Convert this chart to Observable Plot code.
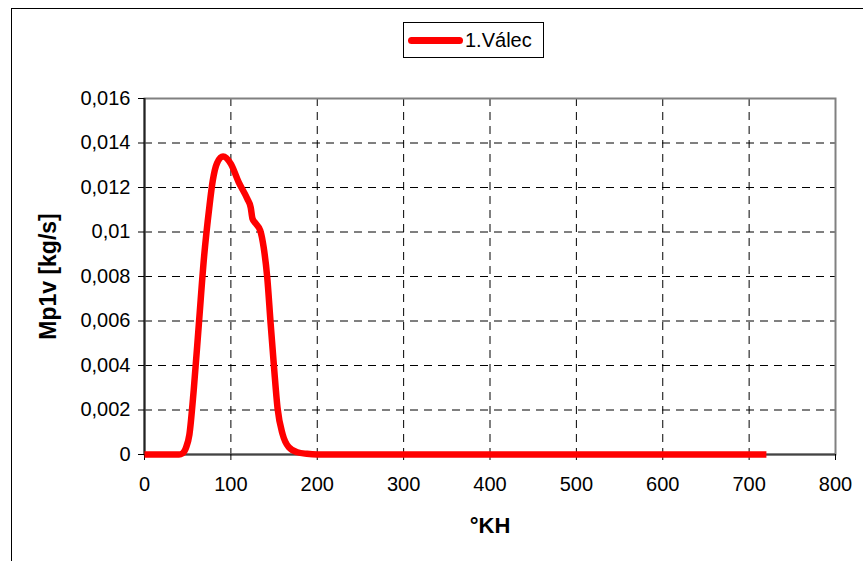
<!DOCTYPE html>
<html>
<head>
<meta charset="utf-8">
<script src="https://cdn.jsdelivr.net/npm/d3@7"></script>
<script src="https://cdn.jsdelivr.net/npm/@observablehq/plot@0.6"></script>
<style>
  html, body { margin: 0; padding: 0; background: #fff; }
  #wrap { position: relative; width: 863px; height: 561px; overflow: hidden; font-family: "Liberation Sans", Arial, sans-serif; }
  #outer { position: absolute; left: 11px; top: 8px; width: 2000px; height: 2000px; border-left: 1.5px solid #000; border-top: 1.5px solid #000; }
  #legend { position: absolute; left: 403px; top: 22px; width: 141px; height: 36px; border: 1px solid #000; background: #fff; box-sizing: border-box; }
  #legend .swatch { position: absolute; left: 4px; top: 14px; width: 55px; height: 7px; background: #ff0000; border-radius: 4px; }
  #legend .lab { position: absolute; left: 61px; top: 5px; font-size: 20px; color: #000; line-height: 24px; }
  svg { position: absolute; left: 0; top: 0; }
</style>
</head>
<body>
<div id="wrap">
  <div id="outer"></div>
  <div id="legend"><div class="swatch"></div><div class="lab">1.Válec</div></div>
</div>
<script>
// Data (crank angle °KH vs. Mp1v [kg/s])
const angle = [0, 40, 44, 48, 52, 57, 63, 69, 75, 79, 84, 91, 100, 109, 119, 123, 125, 129, 134, 138, 142, 146, 150, 154, 160, 167, 177, 188, 200, 720];
const mp1v  = [0, 0, 0.00005, 0.0003, 0.0009, 0.0029, 0.0059, 0.0089, 0.0111, 0.0123, 0.0131, 0.01339, 0.01306, 0.01224, 0.01149, 0.0111, 0.0106, 0.01037, 0.01007, 0.0093, 0.0080, 0.0059, 0.0039, 0.0021, 0.0009, 0.00033, 0.0001, 0.00003, 0, 0];
const xTicks = [0, 100, 200, 300, 400, 500, 600, 700, 800];
const yTicks = [0, 0.002, 0.004, 0.006, 0.008, 0.01, 0.012, 0.014, 0.016];
const seriesName = "1.Válec";
const xTitle = "°KH";
const yTitle = "Mp1v [kg/s]";

const data = angle.map((a, i) => ({angle: a, value: mp1v[i], series: seriesName}));
const fmtY = v => String(+v.toFixed(3)).replace(".", ",");

const chart = Plot.plot({
  width: 863,
  height: 561,
  marginLeft: 144,
  marginRight: 28,
  marginTop: 98,
  marginBottom: 107,
  style: {fontFamily: "'Liberation Sans', Arial, sans-serif", fontSize: "20px", color: "#000", background: "transparent"},
  x: {domain: [0, 800]},
  y: {domain: [0, 0.016]},
  marks: [
    Plot.gridX(xTicks.filter(d => d > 0 && d < 800), {stroke: "#000", strokeOpacity: 1, strokeWidth: 1, strokeDasharray: "8,6"}),
    Plot.gridY(yTicks.filter(d => d > 0 && d < 0.016), {stroke: "#000", strokeOpacity: 1, strokeWidth: 1, strokeDasharray: "8,6"}),
    Plot.frame({stroke: "#808080", strokeWidth: 2}),
    Plot.ruleX([0], {stroke: "#222", strokeWidth: 2}),
    Plot.ruleY([0], {stroke: "#444", strokeWidth: 2}),
    Plot.axisX({ticks: xTicks, tickSize: 6, tickPadding: 16, tickFormat: d => String(d), fontSize: 20,
      label: xTitle, labelAnchor: "center", labelArrow: "none", labelOffset: 78}),
    Plot.axisY({ticks: yTicks, tickSize: 6, tickPadding: 8, tickFormat: fmtY, fontSize: 20,
      label: yTitle, labelAnchor: "center", labelArrow: "none", labelOffset: 105}),
    Plot.line(data, {x: "angle", y: "value", stroke: "#ff0000", strokeWidth: 6.5, curve: "monotone-x", strokeLinejoin: "round", strokeLinecap: "butt"})
  ]
});
// bold axis titles
chart.querySelectorAll("g[aria-label='x-axis label'] text, g[aria-label='y-axis label'] text").forEach(t => {
  t.setAttribute("font-weight", "bold");
  t.setAttribute("font-size", "22");
});
chart.querySelectorAll("g[aria-label='y-axis label'] text").forEach(t => t.setAttribute("font-size", "23"));
document.getElementById("wrap").appendChild(chart);
</script>
</body>
</html>
